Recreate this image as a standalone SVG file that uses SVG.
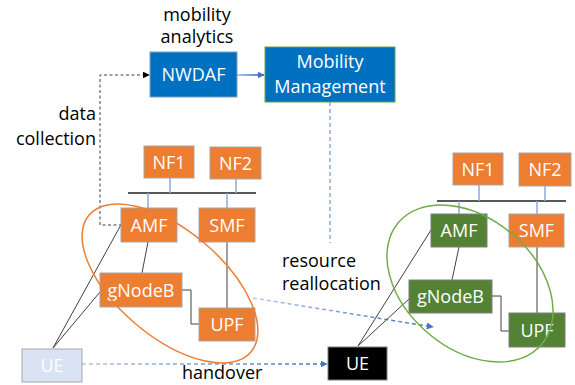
<svg xmlns="http://www.w3.org/2000/svg" width="575" height="385" viewBox="0 0 575 385">
<style>
text{font-family:"Open Sans","Liberation Sans",sans-serif;font-size:18px}
.lbl{fill:#000}
.nt{fill:#fff;text-anchor:middle}
.or{fill:#ED7D31;stroke:#A6A6A6;stroke-width:1}
.gr{fill:#548235;stroke:#7F7F7F;stroke-width:1}
.bl{fill:#0070C0;stroke:#7F9FBF;stroke-width:1}
.ln{stroke:#404040;stroke-width:1;fill:none}
.bus{stroke:#595959;stroke-width:2;fill:none}
.bc{stroke:#8FAADC;stroke-width:1.5;fill:none}
.bd{stroke-width:1.5;fill:none;stroke-dasharray:4 3}
</style>
<defs>
<marker id="ab" viewBox="0 0 10 10" refX="9" refY="5" markerWidth="7" markerHeight="7" orient="auto" markerUnits="userSpaceOnUse"><path d="M0,0 L10,5 L0,10 z" fill="#4472C4"/></marker>
<marker id="ak" viewBox="0 0 10 10" refX="9" refY="5" markerWidth="7" markerHeight="7" orient="auto" markerUnits="userSpaceOnUse"><path d="M0,0 L10,5 L0,10 z" fill="#000"/></marker>
<linearGradient id="g1" gradientUnits="userSpaceOnUse" x1="237" y1="75" x2="265" y2="75"><stop offset="0" stop-color="#B4C7E7"/><stop offset="1" stop-color="#4472C4"/></linearGradient>
<linearGradient id="g2" gradientUnits="userSpaceOnUse" x1="253" y1="298" x2="434" y2="327"><stop offset="0" stop-color="#B4C7E7"/><stop offset="1" stop-color="#4472C4"/></linearGradient>
<linearGradient id="g3" gradientUnits="userSpaceOnUse" x1="82" y1="364" x2="328" y2="364"><stop offset="0" stop-color="#B4C7E7"/><stop offset="1" stop-color="#4472C4"/></linearGradient>
</defs>

<g id="connectors">
<line x1="237" y1="75" x2="264" y2="75" stroke="url(#g1)" stroke-width="2" marker-end="url(#ab)"/>
<polyline points="122,225 100,225 100,75 149,75" class="ln" stroke="#404040" stroke-dasharray="3 2.5" marker-end="url(#ak)"/>
<line x1="330" y1="102" x2="330" y2="243" class="bd" stroke="#8FAADC"/>
<line x1="253" y1="298" x2="433" y2="327" class="bd" stroke="url(#g2)" marker-end="url(#ab)"/>
<line x1="82" y1="364" x2="327" y2="364" class="bd" stroke="url(#g3)" marker-end="url(#ab)"/>
<!-- left bus -->
<line x1="128" y1="193" x2="256" y2="193" class="bus"/>
<line x1="170" y1="178" x2="170" y2="193" class="bc"/>
<line x1="236" y1="179" x2="236" y2="193" class="bc"/>
<line x1="148" y1="193" x2="148" y2="208" class="bc"/>
<line x1="227" y1="193" x2="227" y2="208" class="bc"/>
<!-- left links -->
<line x1="148" y1="242" x2="142" y2="273" class="ln"/>
<line x1="227" y1="242" x2="227" y2="308" class="ln"/>
<polyline points="182,290 191,290 191,324 199,324" class="ln"/>
<line x1="53" y1="348" x2="122" y2="223" class="ln"/>
<line x1="53" y1="348" x2="100" y2="292" class="ln"/>
<!-- right bus -->
<line x1="437" y1="201" x2="566" y2="201" class="bus"/>
<line x1="479" y1="185" x2="479" y2="201" class="bc"/>
<line x1="545" y1="186" x2="545" y2="201" class="bc"/>
<line x1="459" y1="201" x2="459" y2="214" class="bc"/>
<line x1="537" y1="201" x2="537" y2="214" class="bc"/>
<!-- right links -->
<line x1="459" y1="247" x2="452" y2="280" class="ln"/>
<line x1="537" y1="247" x2="537" y2="313" class="ln"/>
<polyline points="492,296 501,296 501,331 509,331" class="ln"/>
<line x1="358" y1="346" x2="431" y2="230" class="ln"/>
<line x1="358" y1="346" x2="409" y2="299" class="ln"/>
</g>

<g id="labels">
<text x="197" y="21" text-anchor="middle">mobility</text>
<text x="197" y="43" text-anchor="middle">analytics</text>
<text x="96" y="120" text-anchor="end">data</text>
<text x="96" y="145" text-anchor="end">collection</text>
<text x="282" y="267">resource</text>
<text x="282" y="290">reallocation</text>
<text x="182" y="379">handover</text>
</g>

<g id="nwdaf"><rect x="150" y="52" width="87" height="45" class="bl"/><text x="193.5" y="81" class="nt">NWDAF</text></g>
<g id="mobility-management"><rect x="265" y="47" width="130" height="55" fill="#0070C0" stroke="#6A9F4A"/><text x="330" y="68" class="nt">Mobility</text><text x="330" y="93" class="nt">Management</text></g>

<g id="nf1-a"><rect x="144" y="146" width="50" height="32" class="or"/><text x="169" y="168.5" class="nt">NF1</text></g>
<g id="nf2-a"><rect x="210" y="147" width="51" height="32" class="or"/><text x="235.5" y="169.5" class="nt">NF2</text></g>
<g id="amf-a"><rect x="121" y="208" width="56" height="34" class="or"/><text x="149" y="231.5" class="nt">AMF</text></g>
<g id="smf-a"><rect x="199" y="208" width="56" height="34" class="or"/><text x="227" y="231.5" class="nt">SMF</text></g>
<g id="gnodeb-a"><rect x="100" y="273" width="82" height="34" class="or"/><text x="141" y="296.5" class="nt">gNodeB</text></g>
<g id="upf-a"><rect x="199" y="308" width="56" height="33" class="or"/><text x="227" y="331" class="nt">UPF</text></g>
<g id="ue-a"><rect x="22" y="349" width="60" height="33" fill="#DAE3F3" stroke="#A6A6A6"/><text x="52" y="372" class="nt">UE</text></g>
<g id="ellipse-a"><ellipse cx="170" cy="283.5" rx="106" ry="53" fill="none" stroke="#ED7D31" stroke-width="1.5" transform="rotate(40.2 170 283.5)"/></g>

<g id="nf1-b"><rect x="453" y="153" width="50" height="32" class="or"/><text x="478" y="175.5" class="nt">NF1</text></g>
<g id="nf2-b"><rect x="519" y="153" width="52" height="33" class="or"/><text x="545" y="176" class="nt">NF2</text></g>
<g id="amf-b"><rect x="431" y="214" width="56" height="33" class="gr"/><text x="459" y="237" class="nt">AMF</text></g>
<g id="smf-b"><rect x="509" y="214" width="55" height="33" class="or"/><text x="536.5" y="237" class="nt">SMF</text></g>
<g id="gnodeb-b"><rect x="409" y="280" width="83" height="33" class="gr"/><text x="450.5" y="303" class="nt">gNodeB</text></g>
<g id="upf-b"><rect x="509" y="313" width="56" height="34" class="gr"/><text x="537" y="336.5" class="nt">UPF</text></g>
<g id="ue-b"><rect x="328" y="347" width="59" height="33" fill="#000" stroke="#7F7F7F"/><text x="357.5" y="370" class="nt">UE</text></g>
<g id="ellipse-b"><ellipse cx="470" cy="283.5" rx="94" ry="65" fill="none" stroke="#70AD47" stroke-width="1.5" transform="rotate(40.4 470 283.5)"/></g>
</svg>
